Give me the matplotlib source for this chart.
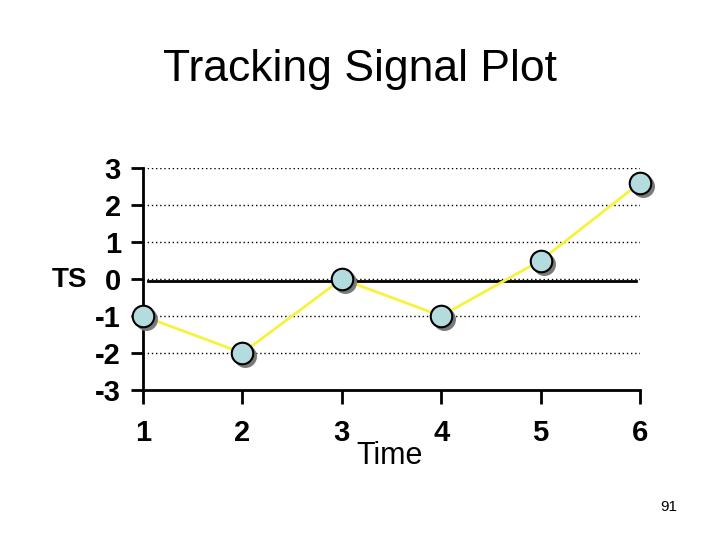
import matplotlib
matplotlib.use("Agg")
import matplotlib.pyplot as plt
import matplotlib.transforms as mtransforms

plt.rcParams['font.family'] = ['Liberation Sans', 'DejaVu Sans']

periods = [1, 2, 3, 4, 5, 6]
ts_values = [-1.0, -2.0, 0.0, -1.0, 0.5, 2.6]
y_ticks = [-3, -2, -1, 0, 1, 2, 3]

fig = plt.figure(figsize=(7.2, 5.4), dpi=100)
ax = fig.add_axes([143/720, 1-390/540, (640-143)/720, (390-168)/540])
ax.set_xlim(1, 6)
ax.set_ylim(-3, 3)

# dotted grid
for yv in y_ticks[1:]:
    ax.axhline(yv, color='black', lw=1.0, ls=(0, (1, 2)), zorder=1)
# solid zero line, slightly offset down
zoff = mtransforms.offset_copy(ax.transData, fig=fig, x=0, y=-2, units='dots')
ax.plot([1.05, 5.96], [0, 0], color='black', lw=2, transform=zoff, zorder=2)

ax.plot(periods, ts_values, color='#F7F23C', lw=2, zorder=3, clip_on=False)
shadow = mtransforms.offset_copy(ax.transData, fig=fig, x=3, y=-3, units='dots')
ax.plot(periods, ts_values, ls='none', marker='o', ms=15.5, mfc='#7A7A7A', mec='#7A7A7A',
        transform=shadow, zorder=4, clip_on=False)
ax.plot(periods, ts_values, ls='none', marker='o', ms=15.5, mfc='#B4DCDF', mec='black',
        mew=1.5, zorder=5, clip_on=False)

ax.set_xticks(periods)
ax.set_yticks(y_ticks)
ax.set_xticklabels([str(p) for p in periods], fontsize=21, fontweight='bold')
ax.set_yticklabels([str(v) for v in y_ticks], fontsize=21, fontweight='bold')
ax.tick_params(axis='x', length=10, width=2, pad=11, direction='out')
ax.tick_params(axis='y', length=9, width=2, pad=7, direction='out')
for s in ['top', 'right']:
    ax.spines[s].set_visible(False)
for s in ['left', 'bottom']:
    ax.spines[s].set_linewidth(2)

fig.text(0.5, 1-70/540, 'Tracking Signal Plot', fontsize=32, ha='center', va='center')
fig.text(70/720, 1-280/540, 'TS', fontsize=20, fontweight='bold', ha='center', va='center')
fig.text(390/720, 1-456/540, 'Time', fontsize=22, ha='center', va='center')
fig.text(669/720, 1-507/540, '91', fontsize=11, ha='center', va='center')

fig.savefig('out.png', dpi=100)
